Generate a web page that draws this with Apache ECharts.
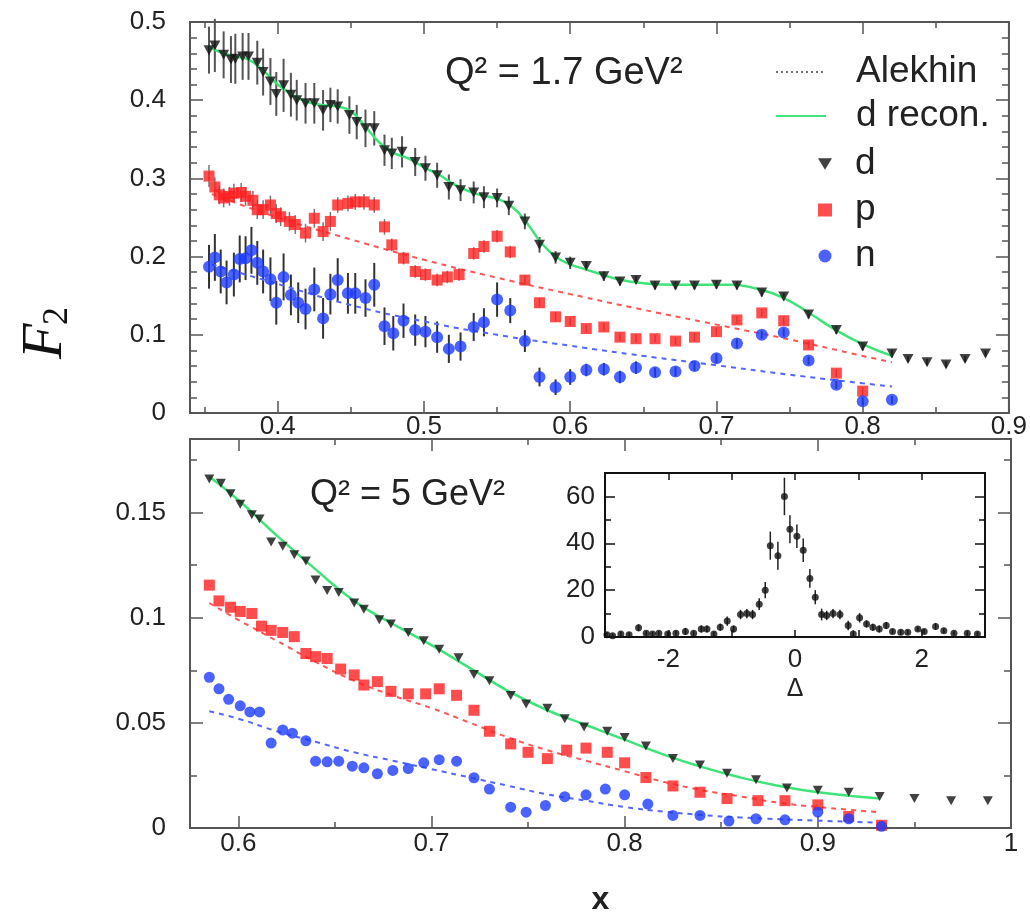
<!DOCTYPE html>
<html><head><meta charset="utf-8">
<script src="https://cdn.jsdelivr.net/npm/echarts@6/dist/echarts.min.js"></script>
<style>html,body{margin:0;padding:0;background:#fff}#c{width:1030px;height:917px}</style>
</head><body><div id="c"></div><script>
// ---------- tick values ----------
const topXMajor = [0.4,0.5,0.6,0.7,0.8,0.9];
const topXMinor = [0.35,0.45,0.55,0.65,0.75,0.85];
const topYMajor = [0,0.1,0.2,0.3,0.4,0.5];
const topYMinor = [0.02,0.04,0.06,0.08,0.12,0.14,0.16,0.18,0.22,0.24,0.26,0.28,0.32,0.34,0.36,0.38,0.42,0.44,0.46,0.48];
const botXMajor = [0.6,0.7,0.8,0.9,1];
const botXMinor = [0.65,0.75,0.85,0.95];
const botYMajor = [0,0.05,0.1,0.15];
const botYMinor = [0.025,0.075,0.125,0.175];
const insXLabels = [-2,0,2];
const insXTicks = [-2,-1,0,1,2];
const insYMajor = [0,20,40,60];
const insYMinor = [10,30,50];

// ---------- Q2 = 1.7 GeV2 panel ----------
const topDX = [0.353,0.357,0.363,0.368,0.371,0.376,0.380,0.386,0.390,0.395,0.399,0.404,0.409,0.413,0.419,0.425,0.431,0.436,0.441,0.449,0.454,0.460,0.466,0.473,0.478,0.485,0.494,0.501,0.509,0.517,0.525,0.534,0.541,0.550,0.558,0.569,0.579,0.590,0.600,0.611,0.623,0.634,0.645,0.658,0.672,0.685,0.700,0.714,0.731,0.746,0.763,0.782,0.800,0.820,0.831,0.844,0.857,0.870,0.884];
const topDY = [0.464,0.470,0.458,0.452,0.453,0.456,0.456,0.448,0.436,0.424,0.408,0.419,0.407,0.400,0.396,0.396,0.387,0.394,0.392,0.381,0.372,0.364,0.364,0.336,0.332,0.334,0.321,0.313,0.304,0.289,0.285,0.282,0.276,0.275,0.265,0.245,0.215,0.199,0.192,0.188,0.175,0.168,0.170,0.163,0.163,0.163,0.164,0.163,0.154,0.149,0.126,0.106,0.085,0.076,0.069,0.065,0.062,0.069,0.076];
const topDErr = [0.030,0.034,0.030,0.030,0.032,0.030,0.030,0.028,0.030,0.030,0.028,0.034,0.028,0.026,0.026,0.026,0.026,0.022,0.022,0.024,0.022,0.024,0.022,0.020,0.020,0.020,0.018,0.016,0.016,0.016,0.014,0.014,0.014,0.012,0.012,0.010,0.010,0.008,0.008,0.006,0.006,0.005,0.005,0.005,0.005,0.005,0.005,0.005,0.005,0.005,0.005,0.005,0.005,0.005,0.004,0.004,0.004,0.004,0.004];

const topPX = [0.353,0.357,0.360,0.363,0.367,0.370,0.375,0.378,0.383,0.386,0.390,0.395,0.399,0.402,0.408,0.412,0.419,0.425,0.431,0.436,0.441,0.448,0.453,0.459,0.466,0.473,0.478,0.486,0.494,0.501,0.509,0.516,0.524,0.534,0.541,0.550,0.559,0.569,0.579,0.590,0.600,0.611,0.623,0.634,0.645,0.658,0.672,0.685,0.700,0.714,0.731,0.746,0.763,0.782,0.800];
const topPY = [0.303,0.289,0.279,0.275,0.277,0.281,0.282,0.277,0.272,0.260,0.260,0.266,0.255,0.251,0.245,0.241,0.230,0.249,0.232,0.245,0.266,0.268,0.270,0.270,0.266,0.238,0.215,0.198,0.181,0.177,0.170,0.174,0.177,0.204,0.213,0.226,0.206,0.170,0.141,0.123,0.117,0.108,0.110,0.097,0.095,0.095,0.092,0.097,0.104,0.119,0.128,0.118,0.087,0.051,0.028];
const topPErr = [0.014,0.012,0.012,0.012,0.012,0.012,0.012,0.012,0.012,0.012,0.012,0.012,0.012,0.012,0.012,0.012,0.012,0.012,0.012,0.012,0.010,0.010,0.010,0.010,0.010,0.010,0.008,0.008,0.008,0.008,0.008,0.008,0.008,0.008,0.008,0.008,0.008,0.006,0.006,0.006,0.005,0.005,0.005,0.005,0.005,0.005,0.005,0.005,0.005,0.005,0.005,0.005,0.005,0.005,0.005];

const topNX = [0.353,0.357,0.361,0.365,0.370,0.374,0.378,0.382,0.386,0.390,0.395,0.399,0.404,0.409,0.414,0.419,0.425,0.431,0.436,0.441,0.448,0.453,0.460,0.466,0.473,0.479,0.486,0.494,0.501,0.509,0.517,0.525,0.534,0.541,0.550,0.559,0.569,0.579,0.590,0.600,0.611,0.623,0.634,0.645,0.658,0.672,0.685,0.700,0.714,0.731,0.746,0.763,0.782,0.800,0.820];
const topNY = [0.187,0.199,0.181,0.167,0.177,0.197,0.198,0.208,0.192,0.181,0.171,0.141,0.174,0.151,0.141,0.133,0.158,0.121,0.152,0.170,0.153,0.153,0.147,0.164,0.111,0.102,0.118,0.106,0.104,0.097,0.082,0.085,0.110,0.116,0.145,0.131,0.092,0.046,0.033,0.046,0.055,0.056,0.046,0.058,0.052,0.053,0.060,0.070,0.089,0.100,0.103,0.067,0.036,0.015,0.017];
const topNErr = [0.028,0.030,0.028,0.028,0.028,0.030,0.028,0.030,0.028,0.028,0.028,0.028,0.030,0.026,0.026,0.026,0.028,0.026,0.026,0.028,0.026,0.026,0.024,0.028,0.024,0.022,0.022,0.020,0.020,0.020,0.018,0.018,0.018,0.018,0.022,0.016,0.014,0.012,0.010,0.010,0.008,0.008,0.008,0.008,0.006,0.006,0.006,0.006,0.006,0.005,0.005,0.005,0.005,0.005,0.005];

const topReconX = [0.353,0.36,0.37,0.38,0.39,0.40,0.41,0.42,0.43,0.44,0.45,0.46,0.47,0.48,0.49,0.50,0.51,0.52,0.53,0.54,0.55,0.56,0.57,0.58,0.59,0.60,0.61,0.62,0.635,0.65,0.67,0.69,0.71,0.725,0.745,0.765,0.78,0.80,0.82];
const topReconY = [0.468,0.462,0.456,0.452,0.438,0.420,0.407,0.398,0.394,0.392,0.386,0.366,0.345,0.332,0.325,0.314,0.305,0.293,0.284,0.278,0.274,0.264,0.244,0.218,0.200,0.190,0.184,0.178,0.170,0.166,0.164,0.164,0.164,0.160,0.148,0.126,0.108,0.088,0.073];
const topAlekX = [0.355,0.40,0.45,0.50,0.55,0.60,0.65,0.70,0.75,0.80,0.82];
const topAlekPY = [0.280,0.250,0.222,0.196,0.173,0.152,0.132,0.113,0.094,0.073,0.065];
const topAlekNY = [0.190,0.165,0.138,0.117,0.100,0.086,0.073,0.061,0.049,0.038,0.034];

// ---------- Q2 = 5 GeV2 panel ----------
const botDX = [0.585,0.591,0.596,0.601,0.607,0.611,0.617,0.623,0.629,0.635,0.640,0.646,0.652,0.660,0.665,0.673,0.679,0.688,0.696,0.704,0.714,0.722,0.730,0.741,0.749,0.760,0.769,0.779,0.791,0.800,0.811,0.825,0.839,0.853,0.868,0.884,0.900,0.916,0.932,0.950,0.969,0.988];
const botDY = [0.166,0.164,0.159,0.154,0.149,0.147,0.136,0.134,0.130,0.127,0.118,0.113,0.112,0.107,0.104,0.099,0.097,0.093,0.089,0.085,0.081,0.073,0.070,0.063,0.059,0.057,0.052,0.048,0.046,0.043,0.039,0.033,0.030,0.026,0.023,0.019,0.018,0.017,0.015,0.014,0.013,0.013];
const botPX = [0.585,0.590,0.596,0.601,0.607,0.612,0.617,0.623,0.629,0.635,0.640,0.646,0.653,0.660,0.665,0.672,0.679,0.688,0.697,0.704,0.713,0.722,0.730,0.741,0.750,0.760,0.770,0.780,0.791,0.800,0.811,0.825,0.839,0.853,0.869,0.883,0.900,0.916,0.933];
const botPY = [0.1155,0.108,0.105,0.103,0.102,0.096,0.094,0.093,0.091,0.083,0.0815,0.0806,0.0756,0.0728,0.068,0.0696,0.065,0.0638,0.0638,0.0662,0.0631,0.056,0.046,0.040,0.036,0.033,0.037,0.038,0.036,0.031,0.024,0.020,0.017,0.014,0.013,0.013,0.011,0.0055,0.0013];
const botNX = [0.585,0.590,0.595,0.601,0.606,0.611,0.617,0.623,0.628,0.635,0.640,0.646,0.652,0.659,0.665,0.672,0.680,0.688,0.696,0.704,0.713,0.722,0.730,0.741,0.749,0.759,0.769,0.780,0.790,0.800,0.812,0.825,0.839,0.854,0.868,0.883,0.900,0.916,0.933];
const botNY = [0.0717,0.0662,0.0612,0.0581,0.0552,0.0552,0.0404,0.0466,0.0451,0.0415,0.0318,0.0315,0.0318,0.0294,0.0286,0.0258,0.0274,0.0283,0.031,0.0325,0.0318,0.0239,0.0185,0.0099,0.0075,0.0107,0.0149,0.0158,0.0185,0.0158,0.0114,0.006,0.006,0.0033,0.0044,0.0039,0.0075,0.0044,0.0008];
const botFitX = [0.585,0.60,0.62,0.64,0.66,0.68,0.70,0.72,0.74,0.76,0.78,0.80,0.82,0.84,0.86,0.88,0.90,0.932];
const botReconY = [0.167,0.156,0.139,0.123,0.108,0.097,0.087,0.076,0.065,0.056,0.049,0.042,0.035,0.029,0.024,0.020,0.017,0.014];
const botAlekPY = [0.107,0.099,0.089,0.079,0.070,0.063,0.057,0.050,0.043,0.037,0.032,0.027,0.022,0.018,0.015,0.012,0.010,0.0075];
const botAlekNY = [0.0555,0.052,0.046,0.041,0.036,0.032,0.028,0.024,0.020,0.016,0.013,0.010,0.0078,0.0062,0.005,0.0042,0.0035,0.0025];

// ---------- inset (Delta distribution) ----------
const insX = [-2.97,-2.88,-2.75,-2.62,-2.47,-2.35,-2.25,-2.15,-2.01,-1.88,-1.73,-1.60,-1.48,-1.39,-1.28,-1.18,-1.07,-0.97,-0.86,-0.76,-0.67,-0.565,-0.47,-0.39,-0.27,-0.167,-0.08,0.03,0.13,0.235,0.32,0.42,0.50,0.60,0.71,0.84,0.92,1.02,1.13,1.23,1.33,1.44,1.54,1.67,1.78,1.94,2.04,2.22,2.35,2.51,2.72,2.88];
const insY = [1,0.5,1.3,1,3.9,1.6,1.3,1.6,1.3,1.6,2.4,1.6,3.4,3.4,1.3,4.2,6.8,3.4,9.6,10,9.6,14,20,39,34.7,60,46,43,37,25,17,9.6,9.2,10,9.6,4.9,1.3,8.2,5.6,4.2,3.4,4.9,2.4,2,2,3.4,2.4,4.5,2.7,1.6,1.6,1.3];
const insErr = [1,1,1,1,1.5,1,1,1,1,1,1.5,1,1.5,1.5,1,1.5,2,1.5,2,2,2,2.5,3.5,6,6,8,6,5,5,4,3,2.5,2,2,2,2,1.5,2,1.5,1.5,1.5,1.5,1,1,1,1,1,1.5,1,1,1,1];

// ---------- helpers ----------
const FONT = 'Liberation Sans, Arial, sans-serif';
const zip = (xs, ys) => xs.map((x, i) => [x, ys[i]]);
const zip3 = (xs, ys, es) => xs.map((x, i) => [x, ys[i], es[i]]);
const TRI = 'path://M0,0L12,0L6,10Z';

function tickOf(vals, len, color) {
  return {show:true, inside:true, length:len, customValues:vals, lineStyle:{color:color, width:1.5}};
}
function xAxes(grid, min, max, labels, major, minor, o) {
  const base = {type:'value', gridIndex:grid, min:min, max:max, axisLine:{show:false, onZero:false}, splitLine:{show:false}};
  const arr = [
    Object.assign({}, base, {position:'bottom', axisTick:tickOf(major, o.maj, o.tc),
      axisLabel:{show:true, customValues:labels, margin:o.margin, fontSize:o.fs, fontFamily:FONT, color:'#222'},
      name:o.name || '', nameLocation:'middle', nameGap:o.nameGap || 0, nameTextStyle:o.nameStyle || {}}),
    Object.assign({}, base, {position:'top', axisTick:tickOf(major, o.maj, o.tc), axisLabel:{show:false}})
  ];
  if (minor) {
    arr.push(Object.assign({}, base, {position:'bottom', axisTick:tickOf(minor, o.min, o.tc), axisLabel:{show:false}}));
    arr.push(Object.assign({}, base, {position:'top', axisTick:tickOf(minor, o.min, o.tc), axisLabel:{show:false}}));
  }
  return arr;
}
function yAxes(grid, min, max, major, minor, o) {
  const base = {type:'value', gridIndex:grid, min:min, max:max, axisLine:{show:false, onZero:false}, splitLine:{show:false}};
  return [
    Object.assign({}, base, {position:'left', axisTick:tickOf(major, o.maj, o.tc),
      axisLabel:{show:true, customValues:major, margin:o.margin, fontSize:o.fs, fontFamily:FONT, color:'#222'}}),
    Object.assign({}, base, {position:'right', axisTick:tickOf(major, o.maj, o.tc), axisLabel:{show:false}}),
    Object.assign({}, base, {position:'left', axisTick:tickOf(minor, o.min, o.tc), axisLabel:{show:false}}),
    Object.assign({}, base, {position:'right', axisTick:tickOf(minor, o.min, o.tc), axisLabel:{show:false}})
  ];
}
function errRender(color, w) {
  return function (params, api) {
    const x = api.value(0), y = api.value(1), e = api.value(2);
    const a = api.coord([x, y - e]), b = api.coord([x, y + e]);
    return {type:'line', shape:{x1:a[0], y1:a[1], x2:b[0], y2:b[1]}, style:{stroke:color, lineWidth:w}};
  };
}
function errSeries(xi, yi, xs, ys, es, color, w) {
  return {type:'custom', xAxisIndex:xi, yAxisIndex:yi, renderItem:errRender(color, w),
    encode:{x:0, y:1}, data:zip3(xs, ys, es), z:1, silent:true};
}

const RED = '#ff1f1f', BLUE = '#1d3bff', GREEN = '#3fe37a';
const TICKFS = 26;

// axes: top grid x 0..3, bottom grid x 4..7, inset x 8..9
const xAxisList = [].concat(
  xAxes(0, 0.34, 0.9, topXMajor, topXMajor, topXMinor, {tc:'#555', maj:12, min:6, margin:1, fs:TICKFS}),
  xAxes(1, 0.575, 1.0, botXMajor, botXMajor, botXMinor, {tc:'#555', maj:12, min:6, margin:3, fs:TICKFS,
    name:'x', nameGap:56, nameStyle:{fontSize:32, fontWeight:'bold', fontFamily:FONT, color:'#222'}}),
  xAxes(2, -3, 3, insXLabels, insXTicks, null, {tc:'#111', maj:7, min:4, margin:10, fs:26,
    name:'Δ', nameGap:40, nameStyle:{fontSize:25, fontFamily:FONT, color:'#222'}})
);
const yAxisList = [].concat(
  yAxes(0, 0, 0.5, topYMajor, topYMinor, {tc:'#555', maj:13, min:7, margin:24, fs:TICKFS}),
  yAxes(1, 0, 0.185, botYMajor, botYMinor, {tc:'#555', maj:13, min:7, margin:24, fs:TICKFS}),
  yAxes(2, 0, 70, insYMajor, insYMinor, {tc:'#111', maj:10, min:6, margin:10, fs:26})
);

const lineLegendHide = {opacity:0};
const series = [
  // top panel
  errSeries(0, 0, topDX, topDY, topDErr, '#555', 2),
  errSeries(0, 0, topNX, topNY, topNErr, '#333', 2),
  errSeries(0, 0, topPX, topPY, topPErr, '#777', 1.5),
  {name:'Alekhin', type:'line', xAxisIndex:0, yAxisIndex:0, data:zip(topAlekX, topAlekPY), smooth:true,
    symbol:'none', lineStyle:{color:'#ff5555', width:2, type:[5,5]}, z:2},
  {name:'Alekhin', type:'line', xAxisIndex:0, yAxisIndex:0, data:zip(topAlekX, topAlekNY), smooth:true,
    symbol:'none', lineStyle:{color:'#5566ff', width:2, type:[5,5]}, z:2},
  {name:'d recon.', type:'line', xAxisIndex:0, yAxisIndex:0, data:zip(topReconX, topReconY), smooth:true,
    symbol:'none', lineStyle:{color:GREEN, width:2.5}, itemStyle:{color:GREEN}, z:3},
  {name:'d', type:'scatter', xAxisIndex:0, yAxisIndex:0, data:zip(topDX, topDY), symbol:TRI,
    symbolSize:[11,10], itemStyle:{color:'#111'}, z:5},
  {name:'p', type:'scatter', xAxisIndex:0, yAxisIndex:0, data:zip(topPX, topPY), symbol:'rect',
    symbolSize:11, itemStyle:{color:RED}, z:5},
  {name:'n', type:'scatter', xAxisIndex:0, yAxisIndex:0, data:zip(topNX, topNY), symbol:'circle',
    symbolSize:12, itemStyle:{color:BLUE}, z:5},
  // bottom panel
  {name:'Alekhin', type:'line', xAxisIndex:4, yAxisIndex:4, data:zip(botFitX, botAlekPY), smooth:true,
    symbol:'none', lineStyle:{color:'#ff5555', width:2, type:[5,5]}, z:2},
  {name:'Alekhin', type:'line', xAxisIndex:4, yAxisIndex:4, data:zip(botFitX, botAlekNY), smooth:true,
    symbol:'none', lineStyle:{color:'#5566ff', width:2, type:[5,5]}, z:2},
  {name:'d recon.', type:'line', xAxisIndex:4, yAxisIndex:4, data:zip(botFitX, botReconY), smooth:true,
    symbol:'none', lineStyle:{color:GREEN, width:2.5}, z:3},
  {name:'d', type:'scatter', xAxisIndex:4, yAxisIndex:4, data:zip(botDX, botDY), symbol:TRI,
    symbolSize:[10,9], itemStyle:{color:'#111'}, z:5},
  {name:'p', type:'scatter', xAxisIndex:4, yAxisIndex:4, data:zip(botPX, botPY), symbol:'rect',
    symbolSize:11, itemStyle:{color:RED}, z:5},
  {name:'n', type:'scatter', xAxisIndex:4, yAxisIndex:4, data:zip(botNX, botNY), symbol:'circle',
    symbolSize:11, itemStyle:{color:BLUE}, z:5},
  // inset
  errSeries(8, 8, insX, insY, insErr, '#222', 1.5),
  {name:'Δ distribution', type:'scatter', xAxisIndex:8, yAxisIndex:8, data:zip(insX, insY), symbol:'circle',
    symbolSize:7, itemStyle:{color:'#111'}, z:5}
];

const option = {
  animation:false,
  backgroundColor:'#fff',
  textStyle:{fontFamily:FONT},
  grid:[
    {left:190, top:22, width:821, height:391, show:true, borderColor:'#555', borderWidth:2, backgroundColor:'transparent'},
    {left:190, top:439, width:821, height:392, show:true, borderColor:'#555', borderWidth:2, backgroundColor:'transparent'},
    {left:605, top:473, width:380, height:164, show:true, borderColor:'#111', borderWidth:2, backgroundColor:'#fff'}
  ],
  xAxis:xAxisList,
  yAxis:yAxisList,
  legend:[
    {data:[{name:'Alekhin', lineStyle:{color:'#444', type:[2,3], width:1.3}, itemStyle:lineLegendHide},
           {name:'d recon.', itemStyle:lineLegendHide}],
     orient:'vertical', left:770, top:48, itemWidth:50, itemHeight:14, itemGap:6, selectedMode:false,
     textStyle:{fontSize:37, fontFamily:FONT, color:'#222', lineHeight:38, padding:[0,0,0,25]}},
    {data:['d','p','n'], orient:'vertical', left:813, top:140, itemWidth:14, itemHeight:13, itemGap:8, selectedMode:false,
     textStyle:{fontSize:37, fontFamily:FONT, color:'#222', lineHeight:38, padding:[0,0,0,18]}}
  ],
  graphic:[
    {type:'text', left:445, top:55, style:{text:'Q² = 1.7 GeV²', fontSize:38, fontFamily:FONT, fill:'#222'}},
    {type:'text', left:310, top:477, style:{text:'Q² = 5 GeV²', fontSize:36, fontFamily:FONT, fill:'#222'}},
    {type:'group', x:46, y:333, rotation:Math.PI/2, children:[
      {type:'text', x:-26, y:0, style:{text:'F', fontSize:58, fontStyle:'italic', fontFamily:'Liberation Serif, DejaVu Serif, serif', fill:'#111', textAlign:'left', textVerticalAlign:'middle'}},
      {type:'text', x:8, y:12, style:{text:'2', fontSize:36, fontFamily:'Liberation Serif, DejaVu Serif, serif', fill:'#111', textAlign:'left', textVerticalAlign:'middle'}}
    ]}
  ],
  series:series
};
const chart = echarts.init(document.getElementById('c'), null, {renderer:'canvas'});
chart.setOption(option);
</script></body></html>
